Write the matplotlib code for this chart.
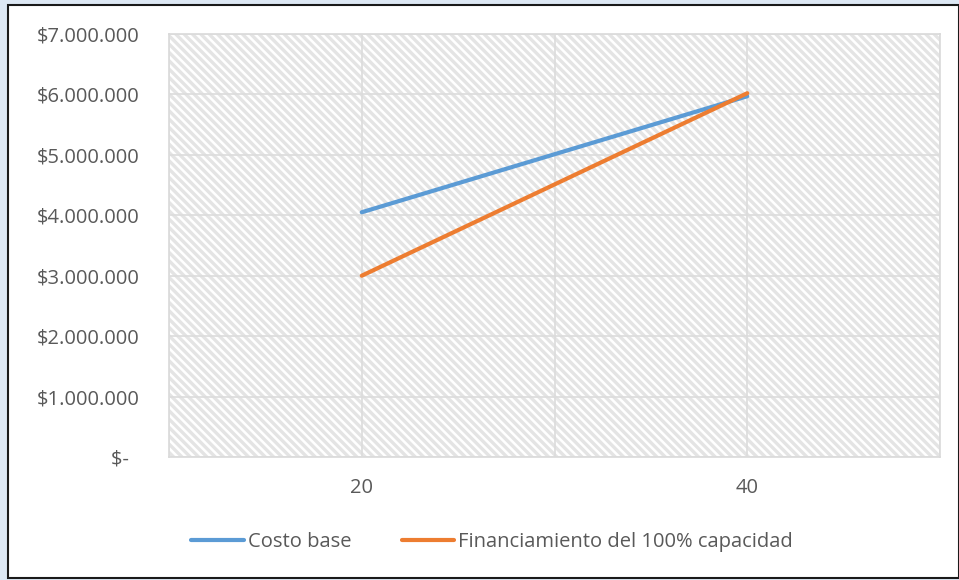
import matplotlib.pyplot as plt
from matplotlib.patches import Rectangle

## Data ---------------------------------------------

x_vals = [20, 40]
costo_base = [4050000, 5970000]
financiamiento = [3000000, 6020000]
y_ticks = [0, 1000000, 2000000, 3000000, 4000000, 5000000, 6000000, 7000000]
y_labels = ["$-  ", "$1.000.000", "$2.000.000", "$3.000.000", "$4.000.000",
            "$5.000.000", "$6.000.000", "$7.000.000"]

plt.rcParams['font.family'] = ['Open Sans', 'DejaVu Sans']
plt.rcParams['hatch.linewidth'] = 2.4
txt = '#595959'
fsize = 14.5

fig = plt.figure(figsize=(9.59, 5.80), dpi=100)
fig.patch.set_facecolor('#dde8f4')
fig.add_artist(Rectangle((8 / 959, 2 / 580), 951 / 959, 573 / 580,
                         transform=fig.transFigure, facecolor='white',
                         edgecolor='#1a1a1a', linewidth=1.5, zorder=0))

ax = fig.add_axes([169 / 959, 123 / 580, 771 / 959, 423 / 580])
ax.set_facecolor('white')
ax.add_patch(Rectangle((0, 0), 1, 1, transform=ax.transAxes, facecolor='white',
                       edgecolor='#e4e4e4', linewidth=0, hatch='\\\\\\\\',
                       zorder=0))

## Main ---------------------------------------------

ax.plot(x_vals, costo_base, color='#5B9BD5', lw=3, solid_capstyle='round',
        label='Costo base', zorder=3)
ax.plot(x_vals, financiamiento, color='#ED7D31', lw=3, solid_capstyle='round',
        label='Financiamiento del 100% capacidad', zorder=3)

ax.set_xlim(10, 50)
ax.set_ylim(0, 7000000)
ax.set_xticks([10, 20, 30, 40, 50])
ax.set_xticklabels(["", "20", "", "40", ""])
ax.set_yticks(y_ticks)
ax.set_yticklabels(y_labels)
ax.grid(True, color='#dcdcdc', lw=1.2)
ax.set_axisbelow(False)
for ln in ax.get_xgridlines() + ax.get_ygridlines():
    ln.set_zorder(1)
ax.tick_params(length=0, labelsize=fsize, labelcolor=txt)
ax.tick_params(axis='y', pad=21)
ax.tick_params(axis='x', pad=15)
for s in ax.spines.values():
    s.set_color('#d9d9d9')
    s.set_linewidth(1.2)

ax.legend(loc='center', bbox_to_anchor=(492 / 959, 1 - 542 / 580),
          bbox_transform=fig.transFigure, ncol=2, frameon=False, fontsize=fsize,
          labelcolor=txt, handlelength=2.6, handletextpad=0.2, columnspacing=2.5)

fig.savefig('out.png', dpi=100, facecolor=fig.get_facecolor())
